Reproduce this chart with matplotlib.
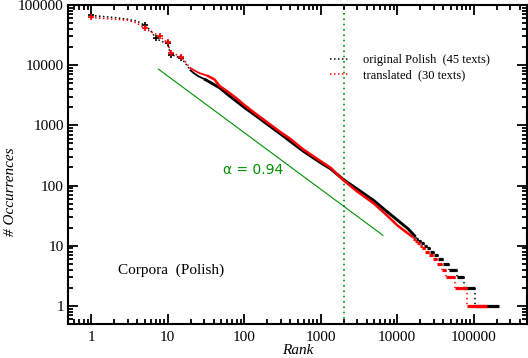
import matplotlib
matplotlib.use("Agg")
import matplotlib.pyplot as plt
from matplotlib.lines import Line2D
from matplotlib.ticker import LogLocator, NullFormatter, FixedFormatter, FixedLocator

# ---------------- data ----------------
black_head_rank = [1, 2, 3, 4, 5, 6, 7, 8, 9, 10, 11, 12, 13, 14, 15, 16, 17, 18, 19, 20]
black_head_freq = [67000, 62000, 58000, 54000, 46000, 38000, 28000, 25500, 24000, 23000,
                   15000, 14500, 14000, 13500, 13000, 12000, 11000, 9800, 9000, 8200]
black_head_marks = [0, 4, 6, 9, 10, 14]

red_head_rank = [1, 2, 3, 4, 5, 6, 7, 8, 9, 10, 11, 12, 13, 14, 15, 16, 17, 18, 19, 20]
red_head_freq = [62000, 58000, 56000, 50000, 41000, 36000, 33000, 30000, 26000, 24000,
                 15800, 15500, 15000, 14500, 13500, 12500, 11500, 10500, 9500, 8900]
red_head_marks = [0, 4, 7, 9, 10, 14]

black_body_rank = [20, 22, 25, 30, 36, 48, 63, 80, 100, 150, 200, 300, 400, 600,
                   1000, 1350, 2000, 3000, 5000, 7000, 10000, 14000, 17500]
black_body_freq = [8200, 7400, 6600, 5900, 5200, 4200, 3160, 2500, 2000, 1380, 1050, 720,
                   545, 370, 240, 190, 125, 88, 56, 39, 27, 19, 14]

red_body_rank = [20, 22, 26, 33, 41, 48, 60, 80, 100, 150, 200, 300, 400, 600,
                 1000, 1350, 2000, 3000, 5000, 7000, 10000, 13000, 16000]
red_body_freq = [8900, 8300, 7400, 6700, 5800, 4500, 3700, 2800, 2200, 1480, 1130, 770,
                 600, 395, 255, 198, 122, 80, 50, 34, 22, 17, 14]

# tail: frequency level and last rank having that frequency
tail_levels = [13, 12, 11, 10, 9, 8, 7, 6, 5, 4, 3, 2, 1]
black_tail_end = [19000, 20500, 22500, 24500, 27000, 30000, 34500, 40000, 48000,
                  60000, 76000, 106000, 213000]
red_tail_end = [17000, 18300, 19800, 21500, 23500, 26000, 29800, 33600, 39000,
                44000, 58000, 81000, 148000]

fit_rank = [7.6, 6540]
fit_freq = [8600, 14.9]
fit_label = "α = 0.94"
vline_rank = 2000

legend_labels = ["original Polish  (45 texts)", "translated  (30 texts)"]
corpus_label = "Corpora  (Polish)"
x_ticks = [1, 10, 100, 1000, 10000, 100000]
x_tick_labels = ["1", "10", "100", "1000", "10000", "100000"]
y_ticks = [1, 10, 100, 1000, 10000, 100000]
y_tick_labels = ["1", "10", "100", "1000", "10000", "100000"]

# ---------------- figure ----------------
fig = plt.figure(figsize=(5.28, 3.58), dpi=100)
ax = fig.add_axes([68 / 528, 1 - 324 / 358, (527 - 68) / 528, (324 - 5) / 358])
ax.set_xscale("log")
ax.set_yscale("log")
ax.set_xlim(0.5, 500000)
ax.set_ylim(0.5, 100000)

GREEN = "#009000"

ax.axvline(vline_rank, color=GREEN, lw=1.2, ls=(0, (1, 2.2)), zorder=1)
ax.plot(fit_rank, fit_freq, color=GREEN, lw=0.8, zorder=2)
ax.text((223 - 68) / 459, (324 - 170) / 319, fit_label, transform=ax.transAxes,
        color=GREEN, fontsize=10, family="DejaVu Sans", ha="left", va="center")


def draw_series(head_r, head_f, marks, body_r, body_f, tail_end, color, z, lw):
    ax.plot(head_r, head_f, color=color, lw=1.1, ls=(0, (1, 1.6)), zorder=z)
    ax.plot([head_r[i] for i in marks], [head_f[i] for i in marks], ls="none",
            marker="+", ms=5, mew=1.2, color=color, zorder=z)
    ax.plot(body_r[:4], body_f[:4], color=color, lw=1.3, zorder=z)
    ax.plot(body_r[3:], body_f[3:], color=color, lw=lw, solid_joinstyle="round",
            solid_capstyle="butt", zorder=z)
    start = body_r[-1]
    prev_f = body_f[-1]
    for lev, end in zip(tail_levels, tail_end):
        ax.plot([start, start], [prev_f, lev], color=color, lw=1.1,
                ls=(0, (1, 2.2)), zorder=z)
        ax.plot([start, end], [lev, lev], color=color, lw=2.3,
                solid_capstyle="butt", zorder=z)
        start = end
        prev_f = lev


draw_series(black_head_rank, black_head_freq, black_head_marks,
            black_body_rank, black_body_freq, black_tail_end, "black", 3, 2.1)
draw_series(red_head_rank, red_head_freq, red_head_marks,
            red_body_rank, red_body_freq, red_tail_end, "red", 4, 1.8)

# axes styling
for s in ax.spines.values():
    s.set_linewidth(1.5)
ax.xaxis.set_major_locator(FixedLocator(x_ticks))
ax.xaxis.set_major_formatter(FixedFormatter(x_tick_labels))
ax.yaxis.set_major_locator(FixedLocator(y_ticks))
ax.yaxis.set_major_formatter(FixedFormatter(y_tick_labels))
ax.xaxis.set_minor_locator(LogLocator(base=10, subs=range(2, 10), numticks=20))
ax.yaxis.set_minor_locator(LogLocator(base=10, subs=range(2, 10), numticks=20))
ax.xaxis.set_minor_formatter(NullFormatter())
ax.yaxis.set_minor_formatter(NullFormatter())
ax.tick_params(which="both", direction="in", top=True, right=True, width=1.3)
ax.tick_params(which="major", length=7)
ax.tick_params(which="minor", length=3.8)
ax.tick_params(axis="x", which="major", pad=5)
ax.tick_params(axis="y", which="major", pad=3)
for lab in ax.get_xticklabels() + ax.get_yticklabels():
    lab.set_fontfamily("Liberation Serif")
    lab.set_fontsize(11)

ax.text(0.5, (324 - 350) / 319, "Rank", transform=ax.transAxes, ha="center", va="center",
        fontsize=11, family="Liberation Serif", style="italic")
ax.text((11 - 68) / 459, (324 - 192) / 319, "# Occurrences", transform=ax.transAxes,
        ha="center", va="center", rotation=90, fontsize=11, family="Liberation Serif",
        style="italic")
ax.text((118 - 68) / 459, (324 - 270) / 319, corpus_label, transform=ax.transAxes,
        ha="left", va="center", fontsize=11, family="Liberation Serif")

handles = [Line2D([], [], color="black", lw=1.1, ls=(0, (1, 1.6))),
           Line2D([], [], color="red", lw=1.1, ls=(0, (1, 1.6)))]
leg = ax.legend(handles, legend_labels, loc="upper left",
                bbox_to_anchor=((330 - 68) / 459, (324 - 54) / 319),
                frameon=False, borderpad=0, borderaxespad=0, handlelength=1.45,
                handletextpad=1.2, labelspacing=0.3,
                prop={"family": "Liberation Serif", "size": 9})

fig.savefig("out.png", dpi=100)
